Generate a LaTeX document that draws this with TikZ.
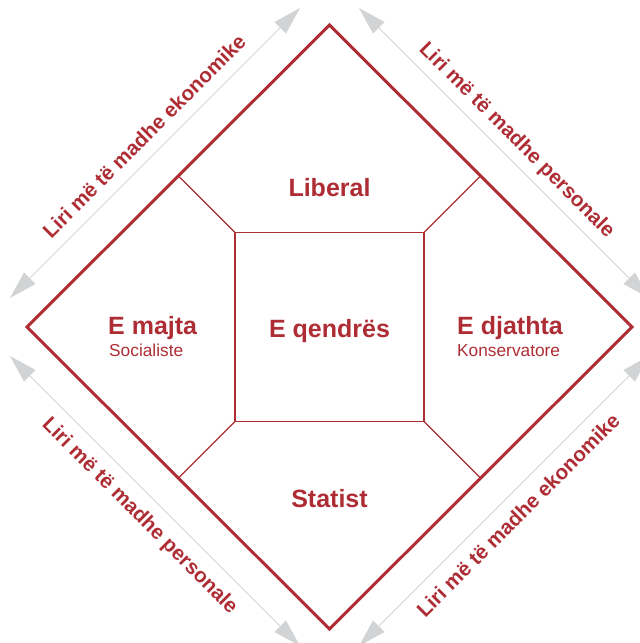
\documentclass[tikz,border=0pt]{standalone}
\usepackage{fontspec}
\setmainfont{Liberation Sans}
\usetikzlibrary{arrows.meta,calc}
\definecolor{nolanred}{RGB}{174,45,52}
\definecolor{axisgray}{RGB}{209,211,212}

\begin{document}
\begin{tikzpicture}[x=1pt,y=1pt,
 frame/.style={draw=nolanred,line width=3pt,line join=miter},
 spoke/.style={draw=nolanred,line width=1.2pt},
 axis/.style={draw=axisgray,line width=1pt,{Triangle[length=28pt,width=16pt]}-{Triangle[length=28pt,width=16pt]}},
 zone/.style={text=nolanred,font=\bfseries\fontsize{25}{30}\selectfont,inner sep=0pt},
 sublbl/.style={text=nolanred,font=\fontsize{17.3}{20}\selectfont,inner sep=0pt},
 axislbl/.style={text=nolanred,font=\bfseries\fontsize{20.6}{25}\selectfont,text height=15pt,text depth=0pt,inner xsep=0pt,inner ysep=12pt}]
\useasboundingbox (-329.5,-316) rectangle (310.5,327);
% outer diamond
\coordinate (T) at (0,302);
\coordinate (R) at (302.5,0);
\coordinate (B) at (0,-302);
\coordinate (L) at (-302.5,0);
\draw[frame] (T) -- (R) -- (B) -- (L) -- cycle;
% centre square and spokes to the edges
\draw[spoke] (-94.5,-94.5) rectangle (94.5,94.5);
\foreach \i/\sx/\sy in {1/-1/1,2/1/1,3/1/-1,4/-1/-1}{
 \coordinate (q\i) at (\sx*94.5,\sy*94.5);
 \coordinate (m\i) at (\sx*151,\sy*151);
 \draw[spoke] (q\i) -- (m\i);
}
% axes
\coordinate (a1) at (-319.5,29);  \coordinate (b1) at (-29.5,319);
\coordinate (a2) at (29.5,319);   \coordinate (b2) at (319.5,29);
\coordinate (a3) at (-29.5,-319); \coordinate (b3) at (-319.5,-29);
\coordinate (a4) at (319.5,-29);  \coordinate (b4) at (29.5,-319);
\foreach \i in {1,...,4}
 \draw[axis] (a\i) -- (b\i);
\node[axislbl,rotate=45,anchor=south] (econ1) at ($(a1)!0.51!(b1)$) {Liri më të madhe ekonomike};
\node[axislbl,rotate=-45,anchor=south] (pers1) at ($(a2)!0.5!(b2)$) {Liri më të madhe personale};
\node[axislbl,rotate=-45,anchor=north] (pers2) at ($(a3)!0.5!(b3)$) {Liri më të madhe personale};
\node[axislbl,rotate=45,anchor=north] (econ2) at ($(a4)!0.5!(b4)$) {Liri më të madhe ekonomike};
% zones
\node[zone,anchor=base] (liberal) at (0,130) {Liberal};
\node[zone,anchor=base] (centre) at (0,-10) {E qendrës};
\node[zone,anchor=base] (statist) at (0,-180) {Statist};
\node[zone,anchor=base west] (left) at (-221.5,-7) {E majta};
\node[sublbl,anchor=base west] (leftsub) at (-220.5,-29) {Socialiste};
\node[zone,anchor=base west] (right) at (127.5,-7) {E djathta};
\node[sublbl,anchor=base west] (rightsub) at (127.5,-29) {Konservatore};
\end{tikzpicture}
\end{document}
